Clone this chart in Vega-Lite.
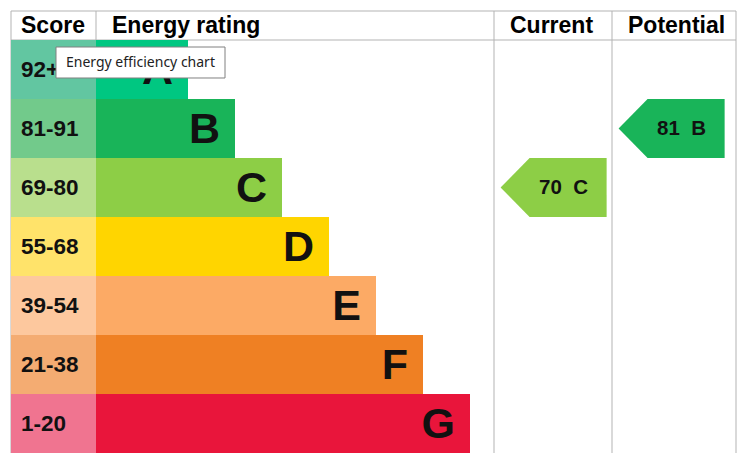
{
  "$schema": "https://vega.github.io/schema/vega-lite/v6.json",
  "padding": {"left": 0, "right": 0, "top": 10, "bottom": 0},
  "spacing": 0,
  "bounds": "flush",
  "background": "white",
  "config": {"view": {"stroke": null}, "font": "Arial, Liberation Sans, sans-serif", "text": {"font": "Arial, Liberation Sans, sans-serif"}},
  "datasets": {
    "bands": [
      {"band": "A", "score": "92+", "col": "Score", "end": 188},
      {"band": "B", "score": "81-91", "col": "Score", "end": 235},
      {"band": "C", "score": "69-80", "col": "Score", "end": 282},
      {"band": "D", "score": "55-68", "col": "Score", "end": 329},
      {"band": "E", "score": "39-54", "col": "Score", "end": 376},
      {"band": "F", "score": "21-38", "col": "Score", "end": 423},
      {"band": "G", "score": "1-20", "col": "Score", "end": 470}
    ],
    "columns": [
      {"column": "Score", "x0": 11, "x1": 96},
      {"column": "Energy rating", "x0": 96, "x1": 494},
      {"column": "Current", "x0": 494, "x1": 612},
      {"column": "Potential", "x0": 612, "x1": 736}
    ],
    "ratings": [
      {"column": "Current", "band": "C", "score": 70, "label": "70\u00a0\u00a0C", "x0": 494},
      {"column": "Potential", "band": "B", "score": 81, "label": "81\u00a0\u00a0B", "x0": 612}
    ]
  },
  "vconcat": [
    {
      "width": 739,
      "height": 29,
      "layer": [
        {
          "data": {"name": "columns"},
          "mark": {"type": "rule", "color": "#b3b3b3", "strokeWidth": 1},
          "encoding": {
            "x": {"field": "x0", "type": "quantitative", "scale": {"domain": [0, 739], "nice": false, "zero": false}, "axis": null}
          }
        },
        {
          "data": {"name": "columns"},
          "transform": [{"filter": "datum.column === 'Potential'"}],
          "mark": {"type": "rule", "color": "#b3b3b3", "strokeWidth": 1},
          "encoding": {
            "x": {"field": "x1", "type": "quantitative"}
          }
        },
        {
          "data": {"name": "columns"},
          "mark": {"type": "rule", "color": "#b3b3b3", "strokeWidth": 1},
          "encoding": {
            "x": {"field": "x0", "type": "quantitative"},
            "x2": {"field": "x1"},
            "y": {"datum": 0, "type": "quantitative", "scale": {"domain": [0, 29], "range": [0, 29], "nice": false, "zero": false}, "axis": null}
          }
        },
        {
          "data": {"name": "columns"},
          "mark": {"type": "rule", "color": "#b3b3b3", "strokeWidth": 1},
          "encoding": {
            "x": {"field": "x0", "type": "quantitative"},
            "x2": {"field": "x1"},
            "y": {"datum": 29, "type": "quantitative"}
          }
        },
        {
          "data": {"name": "columns"},
          "transform": [{"filter": "datum.column !== 'Score'"}],
          "mark": {"type": "text", "align": "left", "baseline": "middle", "dx": 16, "font": "Arial, Liberation Sans, sans-serif", "fontSize": 23, "fontWeight": "bold", "color": "black"},
          "encoding": {
            "x": {"field": "x0", "type": "quantitative"},
            "y": {"datum": 15, "type": "quantitative"},
            "text": {"field": "column", "type": "nominal"}
          }
        },
        {
          "data": {"name": "columns"},
          "transform": [{"filter": "datum.column === 'Score'"}],
          "mark": {"type": "text", "align": "left", "baseline": "middle", "dx": 10, "font": "Arial, Liberation Sans, sans-serif", "fontSize": 23, "fontWeight": "bold", "color": "black"},
          "encoding": {
            "x": {"field": "x0", "type": "quantitative"},
            "y": {"datum": 15, "type": "quantitative"},
            "text": {"field": "column", "type": "nominal"}
          }
        }
      ]
    },
    {
      "width": 739,
      "height": 413,
      "layer": [
        {
          "data": {"name": "columns"},
          "mark": {"type": "rule", "color": "#b3b3b3", "strokeWidth": 1},
          "encoding": {
            "x": {"field": "x0", "type": "quantitative", "scale": {"domain": [0, 739], "nice": false, "zero": false}, "axis": null}
          }
        },
        {
          "data": {"name": "columns"},
          "transform": [{"filter": "datum.column === 'Potential'"}],
          "mark": {"type": "rule", "color": "#b3b3b3", "strokeWidth": 1},
          "encoding": {
            "x": {"field": "x1", "type": "quantitative"}
          }
        },
        {
          "data": {"name": "bands"},
          "transform": [{"lookup": "col", "from": {"data": {"name": "columns"}, "key": "column", "fields": ["x0", "x1"]}}],
          "mark": {"type": "rect"},
          "encoding": {
            "x": {"field": "x0", "type": "quantitative"},
            "x2": {"field": "x1"},
            "y": {"field": "band", "type": "ordinal", "scale": {"domain": ["A", "B", "C", "D", "E", "F", "G"], "paddingInner": 0, "paddingOuter": 0}, "axis": null},
            "fill": {"field": "band", "type": "nominal", "legend": null,
              "scale": {"domain": ["A", "B", "C", "D", "E", "F", "G"], "range": ["#62c6a1", "#72ca8b", "#b9df8d", "#ffe36a", "#fdc89e", "#f4ac72", "#f07490"]}}
          }
        },
        {
          "data": {"name": "bands"},
          "transform": [{"lookup": "col", "from": {"data": {"name": "columns"}, "key": "column", "fields": ["x0", "x1"]}}],
          "mark": {"type": "rect"},
          "encoding": {
            "x": {"field": "x1", "type": "quantitative"},
            "x2": {"field": "end"},
            "y": {"field": "band", "type": "ordinal"},
            "color": {"field": "band", "type": "nominal", "legend": null,
              "scale": {"domain": ["A", "B", "C", "D", "E", "F", "G"], "range": ["#00c781", "#19b459", "#8dce46", "#ffd500", "#fcaa65", "#ef8023", "#e9153b"]}}
          }
        },
        {
          "data": {"name": "bands"},
          "transform": [{"lookup": "col", "from": {"data": {"name": "columns"}, "key": "column", "fields": ["x0", "x1"]}}],
          "mark": {"type": "text", "align": "left", "baseline": "middle", "dx": 10, "font": "Arial, Liberation Sans, sans-serif", "fontSize": 22.5, "fontWeight": "bold", "color": "#111"},
          "encoding": {
            "x": {"field": "x0", "type": "quantitative"},
            "y": {"field": "band", "type": "ordinal"},
            "text": {"field": "score", "type": "nominal"}
          }
        },
        {
          "data": {"name": "bands"},
          "mark": {"type": "text", "align": "right", "baseline": "middle", "dx": -15, "dy": 1, "font": "Arial, Liberation Sans, sans-serif", "fontSize": 43, "fontWeight": "bold", "color": "#111"},
          "encoding": {
            "x": {"field": "end", "type": "quantitative"},
            "y": {"field": "band", "type": "ordinal"},
            "text": {"field": "band", "type": "nominal"}
          }
        },
        {
          "data": {"name": "ratings"},
          "mark": {"type": "point", "filled": true, "opacity": 1, "size": 11236, "xOffset": 59.6,
            "shape": "M-1,0 L-0.453,-0.557 L1,-0.557 L1,0.557 L-0.453,0.557 Z"},
          "encoding": {
            "x": {"field": "x0", "type": "quantitative"},
            "y": {"field": "band", "type": "ordinal"},
            "color": {"field": "band", "type": "nominal", "legend": null}
          }
        },
        {
          "data": {"name": "ratings"},
          "mark": {"type": "text", "align": "right", "baseline": "middle", "dx": 94, "font": "Arial, Liberation Sans, sans-serif", "fontSize": 20.5, "fontWeight": "bold", "color": "#111"},
          "encoding": {
            "x": {"field": "x0", "type": "quantitative"},
            "y": {"field": "band", "type": "ordinal"},
            "text": {"field": "label", "type": "nominal"}
          }
        },
        {
          "data": {"values": [{"tip": "Energy efficiency chart", "band": "A"}]},
          "mark": {"type": "point", "filled": true, "opacity": 1, "fill": "white", "stroke": "#808080", "strokeWidth": 1, "strokeOpacity": 1,
            "size": 28561, "yOffset": -7, "shape": "M-1,-0.1834 L1,-0.1834 L1,0.1834 L-1,0.1834 Z"},
          "encoding": {
            "x": {"datum": 140.5, "type": "quantitative"},
            "y": {"field": "band", "type": "ordinal"}
          }
        },
        {
          "data": {"values": [{"tip": "Energy efficiency chart", "band": "A"}]},
          "mark": {"type": "text", "align": "left", "baseline": "middle", "font": "Noto Sans", "fontSize": 14, "color": "#222", "dy": -7},
          "encoding": {
            "x": {"datum": 66, "type": "quantitative"},
            "y": {"field": "band", "type": "ordinal"},
            "text": {"field": "tip", "type": "nominal"}
          }
        }
      ]
    }
  ]
}
